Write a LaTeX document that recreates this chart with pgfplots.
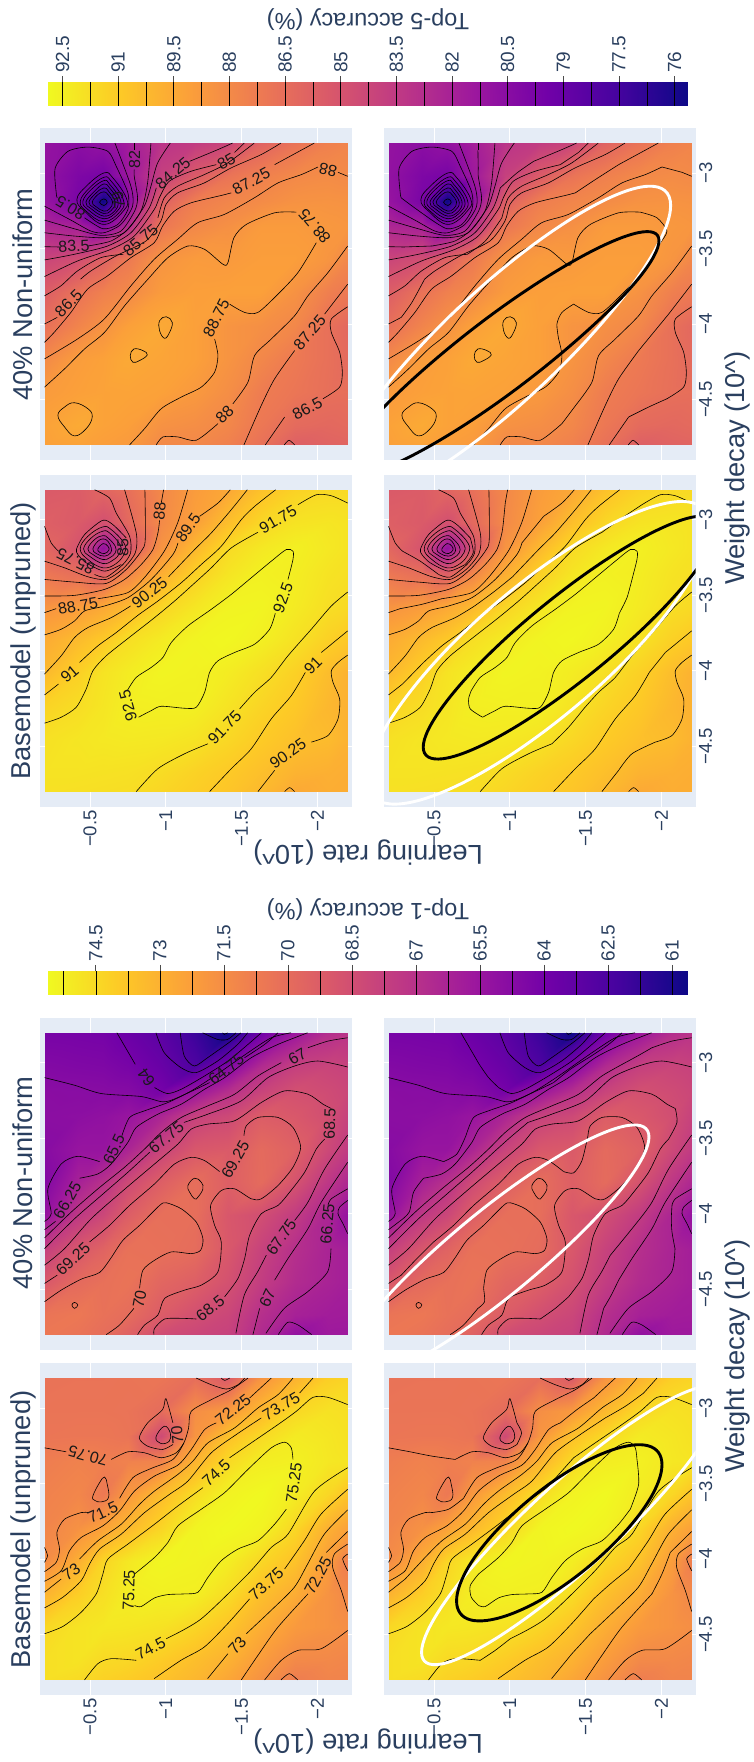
\documentclass[border=0pt]{standalone}
\usepackage{pgfplots}
\pgfplotsset{compat=1.18}
\usepackage{fontspec}
\setmainfont{Liberation Sans}
\definecolor{bgc}{HTML}{E5ECF6}
\definecolor{lab}{HTML}{2A3F5F}
\pgfplotsset{
 colormap={plasma}{rgb255=(13,8,135) rgb255=(70,3,159) rgb255=(114,1,168) rgb255=(156,23,158) rgb255=(189,55,134) rgb255=(216,87,107) rgb255=(237,121,83) rgb255=(251,159,58) rgb255=(253,202,38) rgb255=(240,249,33)},
 crop/.style={x filter/.expression={-0.2-x/454.5},y filter/.expression={-2.8-y/454.5}},
 fld/.style={surf,shader=interp,mesh/cols=11,point meta=explicit,crop,forget plot},
 ctr/.style={black,line width=.6pt,smooth,tension=.45,crop,mark=none,forget plot},
 clo/.style={black,line width=.6pt,smooth cycle,tension=.7,crop,mark=none,forget plot},
 ell/.style={line width=2.9pt,smooth cycle,tension=.63,crop,mark=none,forget plot},
 pan/.style={scale only axis,width=311.6pt,height=332pt,anchor=south west,x dir=reverse,
  xmin=-2.226,xmax=-0.17,ymin=-4.9,ymax=-2.7,axis background/.style={fill=bgc},
  grid=major,grid style={white,line width=1pt},axis line style={draw=none},major tick length=0pt,
  xtick={-2,-1.5,-1,-0.5},xticklabels={−2,−1.5,−1,−0.5},
  ytick={-4.5,-4,-3.5,-3},
  xticklabel style={rotate=90,anchor=east,text=lab,font=\fontsize{18.6}{20}\selectfont},
  yticklabel style={rotate=90,anchor=north,text=lab,font=\fontsize{18.6}{20}\selectfont},
  colormap name=plasma},
 lft/.style={pan,yticklabels={}},
 rgt/.style={pan,yticklabel pos=right,yticklabels={−4.5,−4,−3.5,−3}},
 nox/.style={xticklabels={}},
 cb/.style={scale only axis,width=640pt,anchor=south west,x dir=reverse,ymin=0,ymax=1,ytick=\empty,
  axis line style={draw=none},tick pos=upper,xticklabel pos=upper,tick align=outside,major tick length=6pt,
  xtick style={black!70,line width=.7pt},
  xticklabel style={rotate=90,anchor=west,text=lab,font=\fontsize{19}{20}\selectfont},colormap name=plasma},
}
\newcommand{\ctr}[1]{\addplot[ctr] coordinates {#1};}
\newcommand{\clo}[1]{\addplot[clo] coordinates {#1};}
\newcommand{\lbl}[4]{\node[rotate=#3,inner sep=0pt,font=\fontsize{16}{16}\selectfont,text=black!90] at (axis cs:{-0.2-#1/454.5},{-2.8-#2/454.5}) {#4};}
\newcommand{\wht}[1]{\addplot[ell,white] coordinates {#1};}
\newcommand{\blk}[1]{\addplot[ell,black] coordinates {#1};}

% ---------- Top-5, Basemodel
\newcommand{\FieldA}{\addplot[fld] coordinates {
(0,0)[85.4](100,0)[85.5](175,0)[86.0](250,0)[86.6](350,0)[87.9](450,0)[88.9](550,0)[89.45](650,0)[90.6](750,0)[91.3](850,0)[91.6](909,0)[91.6]
(0,100)[85.7](100,100)[85.4](175,100)[84.8](250,100)[86.2](350,100)[88.0](450,100)[89.1](550,100)[90.5](650,100)[91.5](750,100)[92.0](850,100)[92.1](909,100)[92.0]
(0,175)[86.1](100,175)[85.0](175,175)[81.0](250,175)[85.0](350,175)[88.5](450,175)[90.2](550,175)[91.65](650,175)[92.2](750,175)[92.5](850,175)[92.2](909,175)[92.0]
(0,250)[87.0](100,250)[86.5](175,250)[85.6](250,250)[87.7](350,250)[89.7](450,250)[91.2](550,250)[92.05](650,250)[92.55](750,250)[92.4](850,250)[92.0](909,250)[91.85]
(0,350)[88.45](100,350)[88.9](175,350)[89.45](250,350)[90.15](350,350)[91.4](450,350)[92.1](550,350)[92.65](650,350)[92.7](750,350)[92.3](850,350)[91.8](909,350)[91.6]
(0,450)[89.6](100,450)[90.3](175,450)[90.9](250,450)[91.8](350,450)[92.3](450,450)[92.7](550,450)[92.8](650,450)[92.5](750,450)[91.95](850,450)[91.25](909,450)[90.9]
(0,550)[90.2](100,550)[91.2](175,550)[92.0](250,550)[92.35](350,550)[92.7](450,550)[92.6](550,550)[92.35](650,550)[91.85](750,550)[91.25](850,550)[90.4](909,550)[89.9]
(0,650)[91.35](100,650)[91.75](175,650)[92.1](250,650)[92.45](350,650)[92.5](450,650)[92.5](550,650)[92.0](650,650)[91.4](750,650)[90.9](850,650)[90.15](909,650)[89.85]
(0,750)[91.9](100,750)[92.1](175,750)[92.2](250,750)[92.25](350,750)[92.2](450,750)[92.0](550,750)[91.5](650,750)[91.0](750,750)[90.55](850,750)[90.3](909,750)[89.9]
(0,850)[92.0](100,850)[92.0](175,850)[91.95](250,850)[91.9](350,850)[91.7](450,850)[91.3](550,850)[90.95](650,850)[90.5](750,850)[89.95](850,850)[89.8](909,850)[89.7]
(0,909)[91.9](100,909)[91.85](175,909)[91.8](250,909)[91.75](350,909)[91.45](450,909)[91.1](550,909)[90.75](650,909)[90.2](750,909)[89.5](850,909)[89.7](909,909)[89.7]
};}
\newcommand{\LinesA}{
\ctr{(245,145)(205,105)(174,92)(120,135)(96,178)(100,195)(125,220)(180,245)(230,225)}
\clo{(107,178)(130,140)(174,112)(200,120)(238,160)(240,190)(215,222)(175,235)(130,210)}
\clo{(117,178)(140,145)(174,125)(195,130)(226,165)(226,190)(205,212)(175,222)(135,200)}
\clo{(130,178)(150,150)(175,138)(190,145)(212,170)(212,190)(195,205)(175,210)(145,195)}
\clo{(145,178)(160,155)(176,148)(190,155)(200,175)(198,190)(180,200)(155,192)}
\clo{(160,178)(176,162)(190,170)(193,182)(180,192)(165,188)}
\ctr{(0,110)(20,160)(42,185)}
\ctr{(150,255)(185,263)(235,225)(258,190)(255,140)(215,70)(195,25)(150,0)}
\ctr{(0,215)(60,235)(130,262)(185,270)(235,238)(272,190)(275,130)(240,0)}
\ctr{(0,270)(90,278)(185,282)(245,240)(290,185)(302,150)(301,0)}
\ctr{(0,320)(90,318)(180,300)(240,270)(290,225)(325,180)(340,130)(345,92)}
\ctr{(350,40)(357,0)}
\ctr{(0,370)(35,358)}
\ctr{(160,328)(249,310)(299,265)(359,185)(399,100)(429,0)}
\ctr{(0,437)(50,420)(90,395)(120,365)(180,350)(250,325)(320,270)(385,195)(400,160)}
\ctr{(465,80)(520,40)(557,0)}
\ctr{(0,555)(50,500)(90,445)(130,415)(200,385)(258,350)}
\ctr{(372,262)(450,180)(500,130)(560,60)(608,0)}
\ctr{(0,618)(42,585)}
\ctr{(105,520)(160,470)(215,430)(280,378)(340,335)(410,280)(470,225)(530,170)(590,90)(630,50)(693,0)}
\ctr{(0,703)(50,685)(95,655)(125,600)(145,545)(185,500)(260,440)(330,385)(390,335)(440,290)(500,235)(560,175)(640,128)}
\ctr{(760,45)(815,15)(860,18)(909,40)}
\ctr{(248,605)(275,565)(320,535)(355,505)(380,460)(430,410)(500,360)(560,315)(620,265)(680,215)(725,180)(745,185)(745,210)(730,270)}
\ctr{(692,372)(675,420)(630,465)(570,490)(520,515)(495,550)(480,610)(455,655)(420,658)(350,652)(320,665)(282,685)}
\ctr{(275,909)(340,840)(420,795)(490,765)}
\ctr{(585,660)(630,610)(680,565)(730,500)(800,420)(860,350)(909,308)}
\ctr{(495,909)(560,840)(620,780)(680,690)(740,620)(782,550)}
\ctr{(830,490)(909,425)}
\ctr{(640,909)(690,845)}
\ctr{(800,760)(850,740)(880,690)(885,630)(865,580)(860,545)(880,520)(909,498)}
\ctr{(720,909)(735,897)(750,909)}
}
\newcommand{\GapsA}{
\ctr{(230,225)(254,190)(245,145)}
\ctr{(42,185)(95,215)(150,255)}
\ctr{(345,92)(350,40)}
\ctr{(35,358)(100,345)(160,328)}
\ctr{(400,160)(465,80)}
\ctr{(258,350)(315,308)(372,262)}
\ctr{(42,585)(105,520)}
\ctr{(640,128)(700,85)(760,45)}
\ctr{(730,270)(715,325)(692,372)}
\ctr{(282,685)(245,660)(240,630)(248,605)}
\ctr{(490,765)(540,715)(585,660)}
\ctr{(782,550)(830,490)}
\ctr{(690,845)(730,795)(800,760)}
}
\newcommand{\LabelsA}{
\lbl{93}{215}{153}{85.75}\lbl{235}{175}{90}{85}\lbl{345}{65}{85}{88}\lbl{430}{115}{55}{89.5}
\lbl{100}{350}{10}{88.75}\lbl{315}{310}{38}{90.25}\lbl{75}{555}{40}{91}\lbl{700}{90}{30}{91.75}
\lbl{715}{325}{70}{92.5}\lbl{250}{650}{105}{92.5}\lbl{540}{715}{46}{91.75}\lbl{805}{530}{45}{91}\lbl{730}{795}{35}{90.25}
}

% ---------- Top-5, 40%
\newcommand{\FieldB}{\addplot[fld] coordinates {
(0,0)[81.0](100,0)[80.6](175,0)[80.9](250,0)[81.75](350,0)[83.15](450,0)[83.6](550,0)[84.15](650,0)[85.9](750,0)[86.8](850,0)[87.5](909,0)[87.7]
(0,100)[80.9](100,100)[80.0](175,100)[79.7](250,100)[81.4](350,100)[83.9](450,100)[85.5](550,100)[86.85](650,100)[87.5](750,100)[87.95](850,100)[88.1](909,100)[88.0]
(0,175)[81.1](100,175)[79.8](175,175)[75.64](250,175)[80.5](350,175)[85.7](450,175)[87.35](550,175)[87.75](650,175)[88.05](750,175)[88.4](850,175)[88.45](909,175)[88.4]
(0,250)[82.35](100,250)[82.0](175,250)[80.2](250,250)[82.6](350,250)[87.0](450,250)[87.9](550,250)[88.3](650,250)[88.85](750,250)[88.85](850,250)[88.7](909,250)[88.6]
(0,350)[84.2](100,350)[84.7](175,350)[85.8](250,350)[87.15](350,350)[88.5](450,350)[88.85](550,350)[88.8](650,350)[89.0](750,350)[89.0](850,350)[88.55](909,350)[87.85]
(0,450)[85.65](100,450)[86.8](175,450)[87.5](250,450)[87.95](350,450)[88.85](450,450)[89.05](550,450)[89.1](650,450)[89.1](750,450)[88.4](850,450)[87.45](909,450)[87.1]
(0,550)[86.65](100,550)[87.7](175,550)[88.4](250,550)[89.1](350,550)[89.5](450,550)[89.1](550,550)[88.5](650,550)[88.25](750,550)[87.85](850,550)[86.65](909,550)[86.2]
(0,650)[88.0](100,650)[88.95](175,650)[89.15](250,650)[89.5](350,650)[89.3](450,650)[89.1](550,650)[88.5](650,650)[87.85](750,650)[87.15](850,650)[86.65](909,650)[86.3]
(0,750)[88.85](100,750)[89.1](175,750)[89.2](250,750)[89.25](350,750)[89.15](450,750)[88.75](550,750)[88.2](650,750)[87.3](750,750)[86.95](850,750)[86.6](909,750)[86.55]
(0,850)[89.2](100,850)[89.55](175,850)[89.2](250,850)[89.05](350,850)[88.4](450,850)[88.2](550,850)[87.85](650,850)[87.05](750,850)[86.35](850,850)[86.2](909,850)[86.3]
(0,909)[89.1](100,909)[89.2](175,909)[89.0](250,909)[88.8](350,909)[87.95](450,909)[87.9](550,909)[87.5](650,909)[86.7](750,909)[85.7](850,909)[85.9](909,909)[86.0]
};}
\newcommand{\LinesB}{
\clo{(97,170)(125,130)(178,90)(205,105)(245,165)(240,200)(180,245)(120,205)}
\clo{(107,175)(135,135)(178,103)(200,115)(236,170)(228,205)(178,237)(125,205)}
\clo{(115,175)(140,140)(178,113)(196,125)(228,172)(218,205)(178,228)(130,200)}
\clo{(124,178)(150,145)(178,123)(195,135)(220,175)(210,205)(178,220)(140,198)}
\clo{(133,178)(155,150)(178,135)(192,145)(212,178)(200,203)(178,212)(148,195)}
\clo{(143,178)(160,155)(178,147)(190,155)(204,178)(195,198)(178,205)(155,192)}
\clo{(165,178)(178,168)(188,178)(178,188)}
\ctr{(120,225)(175,258)(220,245)(250,200)(250,150)(215,70)(190,25)(130,12)(70,25)(32,75)(35,150)(38,165)}
\ctr{(211,0)(259,130)(264,190)(229,245)(179,270)(139,265)(79,232)(0,190)}
\ctr{(268,0)(268,22)}
\ctr{(269,80)(269,100)(279,165)(270,205)(229,265)(169,278)(89,258)(0,232)}
\ctr{(319,0)(309,120)(289,205)(239,270)(179,285)(89,280)(0,270)}
\ctr{(377,0)(339,60)(319,130)(299,190)(249,260)(199,295)(130,310)}
\ctr{(45,313)(0,312)}
\ctr{(564,0)(519,20)(435,55)}
\ctr{(335,135)(314,195)(259,270)(189,310)(89,335)(0,352)}
\ctr{(599,0)(570,28)}
\ctr{(515,65)(439,85)(374,115)(344,165)(329,200)(269,280)(199,320)(99,355)(0,402)}
\ctr{(629,0)(549,60)(479,95)(399,130)(359,165)(340,225)}
\ctr{(236,335)(169,345)(99,385)(49,430)(0,460)}
\ctr{(709,0)(649,35)(559,75)(479,120)(399,150)(364,185)(349,235)(304,295)(214,340)(139,385)(108,410)}
\ctr{(38,525)(0,545)}
\ctr{(809,0)(690,65)}
\ctr{(560,150)(529,158)(439,180)(389,205)(354,250)(329,300)(259,345)(189,400)(129,440)(79,510)(29,570)(0,600)}
\ctr{(909,100)(880,88)}
\ctr{(820,72)(770,95)(700,120)(629,165)(539,215)(459,240)(399,290)(329,350)(259,430)(179,530)(99,590)(0,650)}
\ctr{(0,735)(60,680)(120,620)(180,570)(240,490)(310,410)(370,345)(430,310)(480,320)(535,365)(550,360)(568,285)(605,245)(690,210)(755,208)}
\ctr{(815,300)(760,390)(700,455)(640,510)(600,510)(555,485)}
\ctr{(510,590)(520,640)(510,690)(470,735)(410,765)(350,800)(300,860)(255,909)}
\clo{(345,535)(365,523)(383,540)(375,570)(360,588)(345,565)}
\clo{(257,640)(268,620)(295,625)(308,638)(285,655)(265,660)}
\clo{(40,820)(60,795)(90,782)(130,800)(143,825)(125,860)(90,882)(60,855)}
\ctr{(335,909)(355,885)(400,885)(455,895)(520,845)}
\ctr{(565,785)(610,720)(630,640)(680,590)(750,520)(790,460)(850,390)(909,310)}
\ctr{(598,909)(650,790)(690,710)(750,625)}
\ctr{(840,515)(909,425)}
\ctr{(662,909)(720,825)}
\ctr{(835,770)(885,735)(893,690)(885,630)(860,570)(860,530)(909,493)}
\ctr{(719,909)(733,895)(750,909)}
}
\newcommand{\GapsB}{
\ctr{(38,165)(78,195)(120,225)}
\ctr{(268,22)(269,80)}
\ctr{(130,310)(45,313)}
\ctr{(435,55)(385,90)(335,135)}
\ctr{(570,28)(515,65)}
\ctr{(340,225)(290,295)(236,335)}
\ctr{(108,410)(70,480)(38,525)}
\ctr{(690,65)(620,110)(560,150)}
\ctr{(880,88)(820,72)}
\ctr{(755,208)(805,225)(835,265)(815,300)}
\ctr{(555,485)(520,510)(505,545)(510,590)}
\ctr{(520,845)(565,785)}
\ctr{(750,625)(795,570)(840,515)}
\ctr{(720,825)(780,795)(835,770)}
}
\newcommand{\LabelsB}{
\lbl{78}{195}{149}{80.5}\lbl{222}{172}{100}{79}\lbl{270}{50}{90}{82}\lbl{385}{90}{40}{84.25}\lbl{545}{55}{30}{85}
\lbl{620}{115}{28}{87.25}\lbl{850}{80}{168}{88}\lbl{88}{310}{3}{83.5}\lbl{288}{292}{40}{85.75}\lbl{72}{482}{45}{86.5}
\lbl{810}{250}{130}{88.75}\lbl{515}{528}{63}{88.75}\lbl{795}{570}{50}{87.25}\lbl{540}{818}{45}{88}\lbl{788}{800}{28}{86.5}
}

% ---------- Top-1, Basemodel
\newcommand{\FieldC}{\addplot[fld] coordinates {
(0,0)[70.3](100,0)[70.35](175,0)[70.35](250,0)[70.4](350,0)[70.45](450,0)[70.1](550,0)[69.2](650,0)[71.8](750,0)[73.05](850,0)[74.1](909,0)[74.3]
(0,100)[70.4](100,100)[70.4](175,100)[70.4](250,100)[70.35](350,100)[70.0](450,100)[71.55](550,100)[72.05](650,100)[73.3](750,100)[74.45](850,100)[74.8](909,100)[74.7]
(0,175)[70.45](100,175)[70.5](175,175)[70.5](250,175)[70.4](350,175)[68.3](450,175)[71.85](550,175)[73.6](650,175)[74.5](750,175)[75.1](850,175)[74.95](909,175)[74.8]
(0,250)[70.8](100,250)[71.0](175,250)[70.85](250,250)[71.0](350,250)[71.1](450,250)[73.1](550,250)[74.5](650,250)[75.2](750,250)[75.3](850,250)[75.0](909,250)[74.9]
(0,350)[71.0](100,350)[71.2](175,350)[70.6](250,350)[72.0](350,350)[73.4](450,350)[74.6](550,350)[75.4](650,350)[75.6](750,350)[75.15](850,350)[74.4](909,350)[73.7]
(0,450)[71.15](100,450)[71.7](175,450)[72.4](250,450)[73.3](350,450)[74.35](450,450)[75.45](550,450)[75.6](650,450)[75.4](750,450)[74.4](850,450)[72.95](909,450)[72.35]
(0,550)[71.45](100,550)[72.9](175,550)[74.35](250,550)[75.0](350,550)[75.5](450,550)[75.4](550,550)[75.2](650,550)[74.4](750,550)[73.65](850,550)[72.2](909,550)[70.8]
(0,650)[73.05](100,650)[74.1](175,650)[74.7](250,650)[75.2](350,650)[75.3](450,650)[75.25](550,650)[74.6](650,650)[73.55](750,650)[72.8](850,650)[71.75](909,650)[71.3]
(0,750)[74.45](100,750)[74.85](175,750)[75.0](250,750)[74.95](350,750)[74.8](450,750)[74.35](550,750)[73.75](650,750)[72.85](750,750)[72.05](850,750)[71.75](909,750)[71.55]
(0,850)[74.7](100,850)[74.85](175,850)[74.5](250,850)[74.4](350,850)[74.0](450,850)[73.5](550,850)[73.0](650,850)[72.15](750,850)[71.35](850,850)[71.3](909,850)[71.2]
(0,909)[74.7](100,909)[74.55](175,909)[74.2](250,909)[74.0](350,909)[73.65](450,909)[73.2](550,909)[72.55](650,909)[71.7](750,909)[70.8](850,909)[71.1](909,909)[71.1]
};}
\newcommand{\LinesC}{
\ctr{(270,590)(330,540)(370,495)(400,445)(470,395)(540,345)(610,275)(680,210)(720,193)(740,210)(745,245)}
\ctr{(725,395)(690,440)(640,490)(580,515)(530,550)(490,600)(460,645)(420,650)(370,652)(330,662)(290,688)(270,685)}
\ctr{(0,770)(55,748)(110,705)(155,650)(175,590)(190,545)(250,500)(330,440)(400,385)(475,330)}
\ctr{(555,240)(620,195)(700,140)(755,100)(805,58)(850,58)(909,80)}
\ctr{(0,692)(55,660)(110,610)(135,560)(165,515)(230,470)(300,405)(375,350)(430,310)(500,225)(575,170)(650,120)}
\ctr{(765,45)(805,0)}
\ctr{(0,645)(50,605)}
\ctr{(105,545)(160,490)(230,440)(285,380)(330,340)(400,290)(445,250)(490,195)(570,150)(640,90)(700,50)(745,0)}
\ctr{(0,612)(50,580)(75,520)(110,480)(175,445)(225,400)(270,340)(330,295)(400,262)(440,215)(480,155)(515,135)}
\ctr{(615,60)(680,0)}
\ctr{(0,583)(35,555)(45,515)(37,465)(60,425)(110,405)(130,405)}
\ctr{(225,362)(265,300)(320,272)(385,245)(418,195)(432,150)(440,100)(500,65)(560,35)(610,0)}
\ctr{(0,210)(65,222)}
\ctr{(200,245)(250,222)(300,225)(350,240)(395,225)(418,195)}
\ctr{(385,135)(364,62)(354,95)(309,135)(284,180)(309,205)(354,215)(385,200)}
\clo{(334,178)(359,145)(377,165)(374,190)(349,197)}
\clo{(145,355)(165,315)(180,298)(188,320)(192,360)(170,373)(150,368)}
\ctr{(0,510)(9,535)(0,555)}
\ctr{(455,0)(500,20)(545,33)(580,20)(600,0)}
\ctr{(530,0)(540,7)(555,0)}
\ctr{(120,909)(160,860)(200,845)(275,850)}
\ctr{(365,785)(470,725)(610,590)(680,510)(730,470)(810,340)(909,270)}
\ctr{(329,905)(409,850)(479,810)(549,740)(615,665)}
\ctr{(720,575)(779,490)(829,410)(909,335)}
\ctr{(489,905)(550,830)}
\ctr{(605,770)(679,700)(749,630)(789,560)(839,470)(909,397)}
\ctr{(590,909)(640,835)(700,750)(790,650)}
\ctr{(845,525)(909,462)}
\ctr{(660,909)(710,850)(760,820)(830,815)(909,760)}
\ctr{(909,500)(869,530)(864,570)(890,640)(909,703)}
\ctr{(909,530)(894,545)(909,580)}
\ctr{(709,909)(734,890)(759,909)}
}
\newcommand{\GapsC}{
\ctr{(745,245)(750,320)(725,395)}
\ctr{(270,685)(248,660)(245,625)(270,590)}
\ctr{(475,330)(515,285)(555,240)}
\ctr{(650,120)(710,85)(765,45)}
\ctr{(50,605)(105,545)}
\ctr{(515,135)(565,95)(615,60)}
\ctr{(130,405)(180,395)(225,362)}
\ctr{(65,222)(130,235)(200,245)}
\ctr{(385,200)(399,165)(385,135)}
\ctr{(275,850)(320,820)(365,785)}
\ctr{(615,665)(665,620)(720,575)}
\ctr{(550,830)(605,770)}
\ctr{(790,650)(820,590)(845,525)}
}
\newcommand{\LabelsC}{
\lbl{130}{235}{165}{70.75}\lbl{398}{172}{95}{70}\lbl{175}{405}{24}{71.5}\lbl{565}{95}{38}{72.25}\lbl{710}{85}{30}{73.75}
\lbl{515}{285}{42}{74.5}\lbl{748}{315}{82}{75.25}\lbl{253}{638}{88}{75.25}\lbl{80}{585}{35}{73}\lbl{318}{815}{28}{74.5}
\lbl{578}{805}{48}{73}\lbl{665}{620}{42}{73.75}\lbl{820}{595}{62}{72.25}
}

% ---------- Top-1, 40%
\newcommand{\FieldD}{\addplot[fld] coordinates {
(0,0)[64.2](100,0)[64.15](175,0)[64.1](250,0)[63.7](350,0)[63.1](450,0)[62.0](550,0)[60.7](650,0)[63.9](750,0)[65.6](850,0)[66.8](909,0)[67.1]
(0,100)[64.6](100,100)[64.5](175,100)[64.45](250,100)[64.2](350,100)[63.6](450,100)[62.6](550,100)[64.55](650,100)[66.65](750,100)[67.75](850,100)[68.0](909,100)[67.85]
(0,175)[64.9](100,175)[64.85](175,175)[64.8](250,175)[64.7](350,175)[64.1](450,175)[65.5](550,175)[66.85](650,175)[67.95](750,175)[68.6](850,175)[68.35](909,175)[68.1]
(0,250)[64.95](100,250)[65.0](175,250)[65.15](250,250)[65.45](350,250)[66.4](450,250)[67.85](550,250)[68.25](650,250)[69.25](750,250)[69.0](850,250)[68.5](909,250)[67.85]
(0,350)[64.8](100,350)[65.4](175,350)[65.4](250,350)[66.35](350,350)[67.95](450,350)[68.95](550,350)[69.1](650,350)[69.9](750,350)[69.45](850,350)[68.2](909,350)[67.5]
(0,450)[64.6](100,450)[66.15](175,450)[67.0](250,450)[68.3](350,450)[69.35](450,450)[70.1](550,450)[69.35](650,450)[69.95](750,450)[68.75](850,450)[67.3](909,450)[66.5]
(0,550)[65.3](100,550)[67.4](175,550)[68.15](250,550)[69.3](350,550)[70.15](450,550)[70.1](550,550)[68.95](650,550)[68.5](750,550)[67.55](850,550)[66.35](909,550)[65.3]
(0,650)[67.75](100,650)[68.95](175,650)[69.55](250,650)[70.25](350,650)[70.2](450,650)[70.0](550,650)[69.0](650,650)[67.9](750,650)[66.9](850,650)[66.3](909,650)[66.0]
(0,750)[69.0](100,750)[69.9](175,750)[70.2](250,750)[70.35](350,750)[69.7](450,750)[69.35](550,750)[68.65](650,750)[67.6](750,750)[66.7](850,750)[66.25](909,750)[66.0]
(0,850)[70.4](100,850)[70.55](175,850)[70.25](250,850)[70.0](350,850)[69.2](450,850)[68.55](550,850)[68.1](650,850)[66.9](750,850)[66.15](850,850)[65.9](909,850)[65.85]
(0,909)[70.55](100,909)[70.35](175,909)[70.05](250,909)[69.45](350,909)[68.4](450,909)[68.1](550,909)[67.85](650,909)[66.6](750,909)[65.2](850,909)[65.7](909,909)[65.7]
};}
\newcommand{\LinesD}{
\ctr{(0,810)(50,775)(110,742)(165,722)(198,680)(235,625)(285,580)(345,520)(365,512)(410,530)(455,570)(475,620)(468,655)(440,665)(380,660)(330,685)(295,715)(285,770)}
\ctr{(268,830)(225,880)(185,909)}
\clo{(82,820)(90,812)(100,820)(90,830)}
\clo{(430,460)(450,438)(470,450)(475,470)(460,495)(450,500)(435,480)}
\ctr{(0,755)(38,730)}
\ctr{(135,630)(195,580)(255,520)(330,455)(390,395)(440,375)(480,385)(525,418)}
\ctr{(598,310)(605,280)(640,255)(700,255)(745,285)(768,345)(745,405)(700,460)(650,500)(620,500)(570,470)(530,475)(498,520)(510,580)(530,630)(520,720)(470,760)(420,775)(360,800)(340,850)(300,880)(279,909)}
\ctr{(0,700)(60,650)(140,560)(230,480)(330,395)(400,335)(440,290)(490,275)(570,265)(650,210)(720,175)(790,185)(835,215)(860,228)}
\ctr{(840,320)(815,350)(780,420)(735,480)(700,520)(650,545)(615,610)(600,680)(580,740)(540,795)}
\ctr{(455,862)(410,860)(360,862)(330,890)(328,909)}
\ctr{(0,650)(90,560)(170,490)(250,420)(315,360)}
\ctr{(418,270)(490,245)(590,205)(670,135)(750,100)(820,85)(909,103)}
\ctr{(0,618)(80,540)(160,470)(240,405)(300,350)(350,300)(410,255)(490,220)(570,185)(640,130)(710,90)}
\ctr{(790,45)(850,25)(909,15)}
\ctr{(0,593)(33,568)}
\ctr{(105,438)(160,425)(200,395)(250,330)(275,285)(340,245)(410,215)(480,170)(540,135)(620,75)(700,35)(789,0)}
\ctr{(0,568)(20,545)(10,470)(50,395)(100,372)(165,388)}
\ctr{(232,310)(255,255)(300,235)(370,210)(440,175)(510,130)(610,60)(680,15)(739,0)}
\ctr{(0,135)(90,158)(170,183)(290,192)(355,208)(400,195)(495,150)}
\ctr{(600,75)(660,35)(700,0)}
\ctr{(217,0)(272,95)}
\ctr{(330,165)(368,183)(410,170)(480,130)(550,85)(610,35)(650,0)}
\ctr{(334,0)(359,60)(409,105)(454,120)(519,85)(579,35)(609,0)}
\ctr{(407,0)(419,70)(449,100)(489,75)(559,25)(589,0)}
\ctr{(474,0)(519,20)(549,20)(574,0)}
\ctr{(534,0)(539,5)(549,0)}
\ctr{(574,905)(599,790)(639,720)(665,670)}
\ctr{(750,565)(790,510)(840,410)(909,308)}
\ctr{(625,909)(645,830)}
\ctr{(690,745)(730,680)(790,590)(830,510)(909,390)}
\ctr{(664,905)(719,830)(789,780)(849,720)(859,650)}
\ctr{(850,520)(860,500)(909,470)}
\ctr{(909,505)(885,525)(880,545)(895,575)(909,605)}
\ctr{(701,909)(729,872)(760,880)(801,909)}
}
\newcommand{\GapsD}{
\ctr{(285,770)(288,810)(268,830)}
\ctr{(38,730)(85,680)(135,630)}
\ctr{(525,418)(555,422)(580,385)(598,310)}
\ctr{(860,228)(865,270)(840,320)}
\ctr{(540,795)(500,830)(455,862)}
\ctr{(315,360)(365,315)(418,270)}
\ctr{(710,90)(750,68)(790,45)}
\ctr{(33,568)(62,540)(75,480)(105,438)}
\ctr{(165,388)(205,365)(232,310)}
\ctr{(495,150)(545,110)(600,75)}
\ctr{(272,95)(300,135)(330,165)}
\ctr{(665,670)(710,615)(750,565)}
\ctr{(645,830)(668,790)(690,745)}
\ctr{(859,650)(850,600)(848,560)(850,520)}
}
\newcommand{\LabelsD}{
\lbl{305}{135}{125}{64}\lbl{545}{110}{38}{64.75}\lbl{758}{72}{30}{67}\lbl{208}{350}{65}{65.5}\lbl{365}{315}{40}{67.75}
\lbl{572}{382}{60}{69.25}\lbl{855}{275}{88}{68.5}\lbl{68}{505}{60}{66.25}\lbl{85}{680}{43}{69.25}\lbl{285}{802}{80}{70}
\lbl{497}{830}{38}{68.5}\lbl{710}{615}{55}{67.75}\lbl{668}{800}{65}{67}\lbl{848}{575}{85}{66.25}
}

\begin{document}
\begin{tikzpicture}[x=1pt,y=1pt]
\path[use as bounding box] (0,0) rectangle (753,1762);
% ---- Top-5 group
\begin{axis}[cb,at={(48pt,1656pt)},height=23.7pt,xmin=75.64,xmax=92.89,point meta min=75.64,point meta max=92.89,
 xtick={76,77.5,79,80.5,82,83.5,85,86.5,88,89.5,91,92.5},xticklabels={76,77.5,79,80.5,82,83.5,85,86.5,88,89.5,91,92.5}]
\addplot[surf,shader=interp,mesh/cols=10,point meta=explicit,forget plot] coordinates {
(75.64,0)[75.64](77.56,0)[77.56](79.47,0)[79.47](81.39,0)[81.39](83.31,0)[83.31](85.22,0)[85.22](87.14,0)[87.14](89.06,0)[89.06](90.97,0)[90.97](92.89,0)[92.89]
(75.64,1)[75.64](77.56,1)[77.56](79.47,1)[79.47](81.39,1)[81.39](83.31,1)[83.31](85.22,1)[85.22](87.14,1)[87.14](89.06,1)[89.06](90.97,1)[90.97](92.89,1)[92.89]};
\pgfplotsinvokeforeach{76,76.75,77.5,78.25,79,79.75,80.5,81.25,82,82.75,83.5,84.25,85,85.75,86.5,87.25,88,88.75,89.5,90.25,91,91.75,92.5}{\addplot[black,line width=.6pt,forget plot] coordinates {(#1,0)(#1,1)};}
\end{axis}
\begin{axis}[lft,nox,at={(40pt,1302pt)},point meta min=75.64,point meta max=92.89]
\FieldB \LinesB \LabelsB
\end{axis}
\begin{axis}[rgt,nox,at={(384pt,1302pt)},point meta min=75.64,point meta max=92.89]
\FieldB \LinesB \GapsB
\wht{(846,188)(778,358)(593,595)(339,837)(85,1017)(-100,1088)(-168,1030)(-100,860)(85,623)(339,381)(593,201)(778,130)}
\blk{(811,294)(748,410)(575,584)(339,773)(103,924)(-70,998)(-133,974)(-70,858)(103,684)(339,495)(575,344)(748,270)}
\end{axis}
\begin{axis}[lft,at={(40pt,955.3pt)},point meta min=75.64,point meta max=92.89]
\FieldA \LinesA \LabelsA
\end{axis}
\begin{axis}[rgt,at={(384pt,955.3pt)},point meta min=75.64,point meta max=92.89]
\FieldA \LinesA \GapsA
\wht{(964,110)(895,286)(707,518)(449,741)(191,898)(3,946)(-66,872)(3,696)(191,464)(449,241)(707,84)(895,36)}
\blk{(984,115)(925,238)(764,417)(544,603)(324,747)(163,810)(104,775)(163,652)(324,473)(544,287)(764,143)(925,80)}
\end{axis}
% ---- Top-1 group
\begin{axis}[cb,at={(48pt,767pt)},height=24pt,xmin=60.63,xmax=75.62,point meta min=60.63,point meta max=75.62,
 xtick={61,62.5,64,65.5,67,68.5,70,71.5,73,74.5},xticklabels={61,62.5,64,65.5,67,68.5,70,71.5,73,74.5}]
\addplot[surf,shader=interp,mesh/cols=10,point meta=explicit,forget plot] coordinates {
(60.63,0)[60.63](62.30,0)[62.30](63.96,0)[63.96](65.63,0)[65.63](67.29,0)[67.29](68.96,0)[68.96](70.62,0)[70.62](72.29,0)[72.29](73.95,0)[73.95](75.62,0)[75.62]
(60.63,1)[60.63](62.30,1)[62.30](63.96,1)[63.96](65.63,1)[65.63](67.29,1)[67.29](68.96,1)[68.96](70.62,1)[70.62](72.29,1)[72.29](73.95,1)[73.95](75.62,1)[75.62]};
\pgfplotsinvokeforeach{61,61.75,62.5,63.25,64,64.75,65.5,66.25,67,67.75,68.5,69.25,70,70.75,71.5,72.25,73,73.75,74.5,75.25}{\addplot[black,line width=.6pt,forget plot] coordinates {(#1,0)(#1,1)};}
\end{axis}
\begin{axis}[lft,nox,at={(40pt,412.3pt)},point meta min=60.63,point meta max=75.62]
\FieldD \LinesD \LabelsD
\end{axis}
\begin{axis}[rgt,nox,at={(384pt,412.3pt)},point meta min=60.63,point meta max=75.62]
\FieldD \LinesD \GapsD
\wht{(781,314)(719,443)(550,630)(319,828)(88,982)(-81,1051)(-143,1016)(-81,887)(88,700)(319,502)(550,348)(719,279)}
\end{axis}
\begin{axis}[lft,at={(40pt,67pt)},point meta min=60.63,point meta max=75.62]
\FieldC \LinesC \LabelsC
\end{axis}
\begin{axis}[rgt,at={(384pt,67pt)},point meta min=60.63,point meta max=75.62]
\FieldC \LinesC \GapsC
\wht{(999,62)(939,199)(774,401)(549,615)(324,783)(159,861)(99,826)(159,689)(324,487)(549,273)(774,105)(939,27)}
\blk{(820,261)(779,372)(666,508)(512,634)(358,714)(245,728)(204,671)(245,560)(358,424)(512,298)(666,218)(779,204)}
\end{axis}
% ---- Texts
\tikzset{big/.style={text=lab,font=\fontsize{27.3}{30}\selectfont,inner sep=0pt},cbt/.style={text=lab,font=\fontsize{23.5}{26}\selectfont,inner sep=0pt,rotate=180}}
\node[cbt] at (368,1742) {Top-5 accuracy (\%)};
\node[cbt] at (368,852) {Top-1 accuracy (\%)};
\node[big,rotate=90] at (23,1467.5) {40\% Non-uniform};
\node[big,rotate=90] at (23,1121) {Basemodel (unpruned)};
\node[big,rotate=90] at (23,579) {40\% Non-uniform};
\node[big,rotate=90] at (23,232.5) {Basemodel (unpruned)};
\node[big,rotate=90] at (737,1294) {Weight decay (10\^{})};
\node[big,rotate=90] at (737,406) {Weight decay (10\^{})};
\node[big,rotate=180] at (368,909) {Learning rate (10\^{})};
\node[big,rotate=180] at (368,20) {Learning rate (10\^{})};
\end{tikzpicture}
\end{document}
